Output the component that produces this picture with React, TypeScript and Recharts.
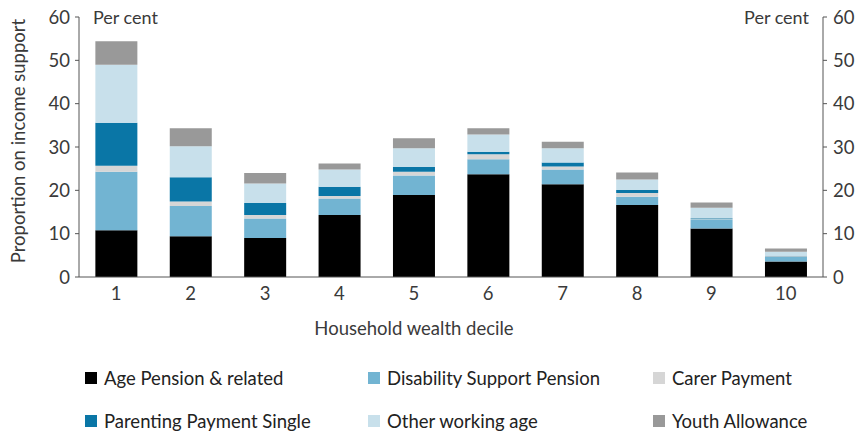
import { ComposedChart, Bar, Line, XAxis, YAxis } from 'recharts';

const deciles = ['1', '2', '3', '4', '5', '6', '7', '8', '9', '10'];
const agePension = [10.8, 9.4, 9.0, 14.3, 18.9, 23.7, 21.4, 16.6, 11.2, 3.6];
const disability = [13.5, 7.0, 4.5, 3.8, 4.5, 3.5, 3.4, 1.9, 2.1, 1.0];
const carer = [1.4, 1.0, 0.8, 0.6, 0.9, 1.1, 0.7, 0.9, 0.2, 0.2];
const parenting = [9.9, 5.6, 2.8, 2.1, 1.1, 0.6, 0.9, 0.7, 0.1, 0.1];
const otherWorking = [13.4, 7.2, 4.5, 4.0, 4.3, 4.0, 3.3, 2.4, 2.4, 0.9];
const youth = [5.4, 4.1, 2.4, 1.4, 2.3, 1.4, 1.5, 1.6, 1.2, 0.8];
const yTicks = [0, 10, 20, 30, 40, 50, 60];

const series = [
  { key: 'age', name: 'Age Pension & related', color: '#000000', values: agePension },
  { key: 'dsp', name: 'Disability Support Pension', color: '#72b4d2', values: disability },
  { key: 'carer', name: 'Carer Payment', color: '#d6d6d6', values: carer },
  { key: 'pps', name: 'Parenting Payment Single', color: '#0a76a6', values: parenting },
  { key: 'other', name: 'Other working age', color: '#c8e0eb', values: otherWorking },
  { key: 'youth', name: 'Youth Allowance', color: '#999999', values: youth },
];

const data = deciles.map((d, i) => {
  const row: Record<string, string | number> = { decile: d };
  series.forEach((s) => {
    row[s.key] = s.values[i];
  });
  return row;
});

const font = 'Lato, "Open Sans", sans-serif';
const fs = 18.5;
const textColor = '#3a3a3a';
const axisColor = '#555555';

// legend sits below the chart, 3 columns x 2 rows
const legendCols = [85, 368, 653];
const legendRows = [378, 421];

const ChartLegend = () => (
  <>
    {series.map((s, i) => (
      <div
        key={s.key}
        style={{
          position: 'absolute',
          left: legendCols[i % 3],
          top: legendRows[Math.floor(i / 3)] - 12,
          height: 24,
          display: 'flex',
          alignItems: 'center',
          fontFamily: font,
          fontSize: fs,
          color: '#222',
          whiteSpace: 'nowrap',
        }}
      >
        <span style={{ display: 'inline-block', width: 12, height: 12, background: s.color, marginRight: 7 }} />
        {s.name}
      </div>
    ))}
  </>
);

const App = () => {
  return (
    <div style={{ position: 'absolute', left: 0, top: 0, width: 855, height: 432, background: '#fff' }}>
      <ComposedChart
        width={855}
        height={345}
        data={data}
        margin={{ top: 17, right: 0, left: 0, bottom: 0 }}
        barCategoryGap="22%"
      >
        <XAxis
          dataKey="decile"
          height={68}
          tickLine={false}
          stroke={axisColor}
          tick={{ fill: textColor, fontSize: fs, fontFamily: font }}
          tickMargin={4}
          label={{
            content: () => (
              <text x={414} y={335} textAnchor="middle" fill={textColor} fontSize={fs} fontFamily={font}>
                Household wealth decile
              </text>
            ),
          }}
        />
        <YAxis
          yAxisId="left"
          width={79}
          domain={[0, 60]}
          ticks={yTicks}
          interval={0}
          stroke={axisColor}
          tickSize={4}
          tickMargin={5}
          tick={{ fill: textColor, fontSize: fs, fontFamily: font }}
          label={{
            content: () => (
              <g>
                <text x={20} y={141} transform="rotate(-90 20 141)" textAnchor="middle" dominantBaseline="middle" fill={textColor} fontSize={fs} fontFamily={font}>
                  Proportion on income support
                </text>
                <text x={93} y={24} fill={textColor} fontSize={18} fontFamily={font}>
                  Per cent
                </text>
              </g>
            ),
          }}
        />
        <YAxis
          yAxisId="right"
          orientation="right"
          width={32}
          domain={[0, 60]}
          ticks={yTicks}
          interval={0}
          stroke={axisColor}
          tickSize={4}
          tickMargin={6}
          tick={{ fill: textColor, fontSize: fs, fontFamily: font }}
          label={{
            content: () => (
              <text x={809} y={24} textAnchor="end" fill={textColor} fontSize={18} fontFamily={font}>
                Per cent
              </text>
            ),
          }}
        />
        {series.map((s) => (
          <Bar key={s.key} yAxisId="left" dataKey={s.key} name={s.name} stackId="a" fill={s.color} isAnimationActive={false} />
        ))}
        {/* invisible series so the right-hand axis gets drawn */}
        <Line yAxisId="right" dataKey="youth" stroke="none" dot={false} activeDot={false} legendType="none" isAnimationActive={false} />
      </ComposedChart>
      <ChartLegend />
    </div>
  );
};

export default App;
